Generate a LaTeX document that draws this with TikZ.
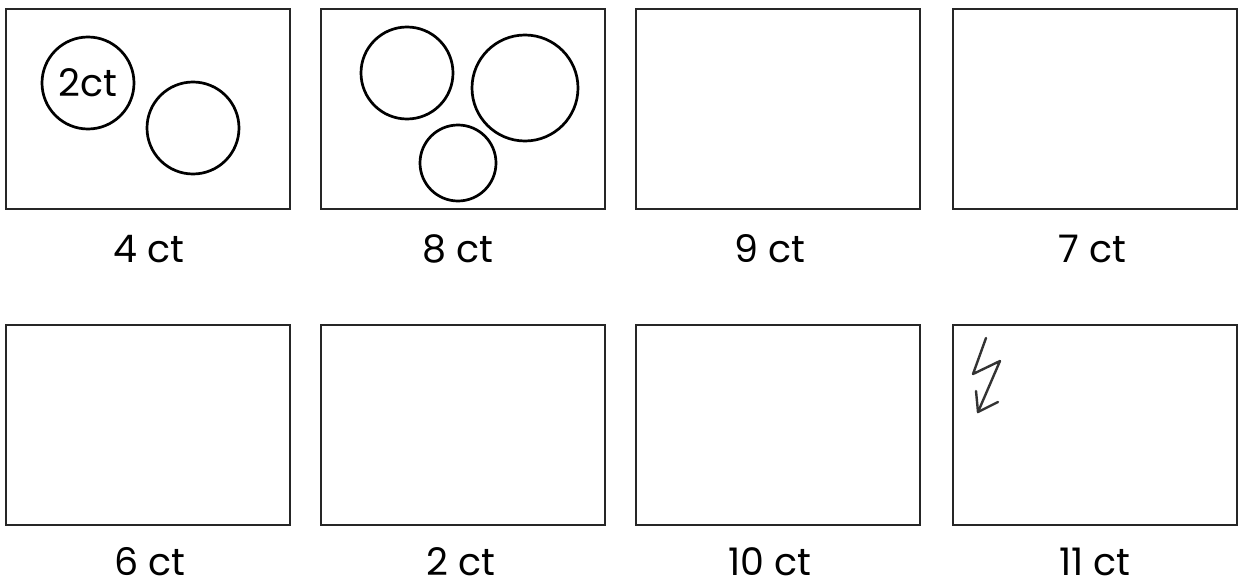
\documentclass[tikz,border=0pt]{standalone}
\usepackage{fontspec}
\setmainfont{Poppins}
\begin{document}
\begin{tikzpicture}[x=1pt,y=-1pt,
  box/.style={draw=black!85, line width=1.3pt, minimum width=284pt, minimum height=200pt, inner sep=0pt},
  coin/.style={draw=black, line width=2.7pt, circle, inner sep=0pt, font=\fontsize{38}{40}\selectfont},
  lab/.style={anchor=base, inner sep=0pt, text depth=0pt, font=\fontsize{38}{41}\selectfont},
  bolt/.style={draw=black!80, line width=2.4pt, line join=round, line cap=round}]
\useasboundingbox (0,0) rectangle (1242,586);
\fill[white] (0,0) rectangle (1242,586);
% row 1
\node[box] (b1) at (148,109) {};
\node[box] (b2) at (463,109) {};
\node[box] (b3) at (778,109) {};
\node[box] (b4) at (1095,109) {};
% row 2
\node[box] (b5) at (148,425) {};
\node[box] (b6) at (463,425) {};
\node[box] (b7) at (778,425) {};
\node[box] (b8) at (1095,425) {};
% labels
\node[lab] (l1) at (149,262) {4 ct};
\node[lab] (l2) at (458,262) {8 ct};
\node[lab] (l3) at (770,262) {9 ct};
\node[lab] (l4) at (1092,262) {7 ct};
\node[lab] (l5) at (150,575) {6 ct};
\node[lab] (l6) at (461,575) {2 ct};
\node[lab] (l7) at (770,575) {10 ct};
\node[lab] (l8) at (1095,575) {11 ct};
% coins in box 1
\node[coin, minimum size=92pt] (c1) at (88,83) {2ct};
\node[coin, minimum size=92pt] (c2) at (193,128) {};
% coins in box 2
\node[coin, minimum size=92pt] (c3) at (407,73) {};
\node[coin, minimum size=106pt] (c4) at (525,88) {};
\node[coin, minimum size=76pt] (c5) at (458,163) {};
% lightning arrow in box 8
\coordinate (z0) at (986,338);
\coordinate (z1) at (973,374);
\coordinate (z2) at (1000,361);
\coordinate (z3) at (978,412);
\coordinate (h1) at (998,402);
\coordinate (h2) at (976,391);
\draw[bolt] (z0) -- (z1) -- (z2) -- (z3);
\draw[bolt] (h1) -- (z3) -- (h2);
\end{tikzpicture}
\end{document}
